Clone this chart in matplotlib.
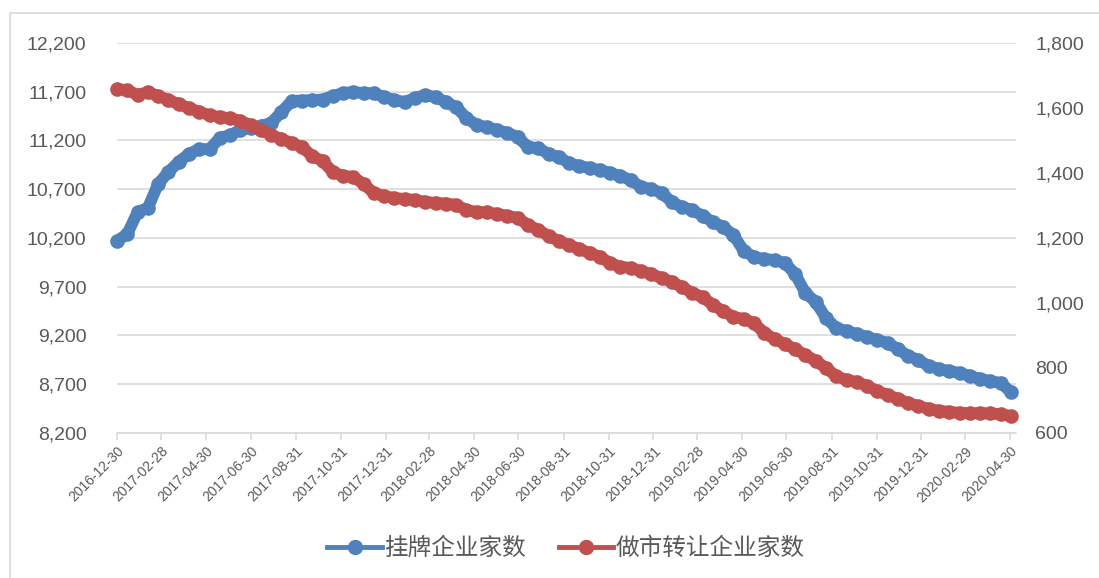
import numpy as np
import pandas as pd
import matplotlib
matplotlib.use("Agg")
import matplotlib.pyplot as plt
from matplotlib.patches import Rectangle
from matplotlib.lines import Line2D

plt.rcParams['font.family'] = ['Liberation Sans', 'Noto Sans CJK SC', 'DejaVu Sans']

# biweekly observations, 2016-12-30 .. 2020-05-01
dates = pd.date_range("2016-12-30", periods=88, freq="14D")

listed = [10170, 10241, 10467, 10508, 10754, 10877, 10980, 11062, 11113, 11110,
          11226, 11256, 11308, 11328, 11349, 11380, 11492, 11605, 11610, 11615,
          11620, 11656, 11687, 11697, 11687, 11685, 11646, 11615, 11595, 11636,
          11667, 11646, 11595, 11544, 11431, 11359, 11338, 11308, 11277, 11236,
          11133, 11123, 11062, 11031, 10969, 10938, 10918, 10897, 10867, 10836,
          10795, 10723, 10703, 10662, 10569, 10518, 10487, 10426, 10364, 10313,
          10231, 10067, 10005, 9985, 9974, 9944, 9831, 9636, 9544, 9380,
          9277, 9246, 9216, 9185, 9154, 9123, 9062, 8990, 8949, 8887,
          8857, 8836, 8816, 8785, 8754, 8733, 8713, 8621]

market_making = [1658, 1655, 1640, 1649, 1637, 1625, 1612, 1600, 1588, 1578,
                 1572, 1569, 1560, 1548, 1532, 1517, 1505, 1492, 1480, 1452,
                 1437, 1403, 1391, 1388, 1366, 1338, 1329, 1323, 1320, 1317,
                 1311, 1308, 1306, 1302, 1286, 1280, 1279, 1274, 1268, 1262,
                 1240, 1225, 1206, 1191, 1178, 1166, 1154, 1142, 1123, 1111,
                 1108, 1098, 1089, 1077, 1065, 1049, 1031, 1018, 994, 975,
                 957, 951, 938, 908, 889, 874, 858, 840, 822, 800,
                 775, 763, 757, 745, 729, 717, 705, 692, 683, 674,
                 668, 665, 662, 661, 661, 660, 658, 652]

tick_labels = ["2016-12-30", "2017-02-28", "2017-04-30", "2017-06-30", "2017-08-31",
               "2017-10-31", "2017-12-31", "2018-02-28", "2018-04-30", "2018-06-30",
               "2018-08-31", "2018-10-31", "2018-12-31", "2019-02-28", "2019-04-30",
               "2019-06-30", "2019-08-31", "2019-10-31", "2019-12-31", "2020-02-29",
               "2020-04-30"]

name_listed = "挂牌企业家数"
name_mm = "做市转让企业家数"

blue = "#4F81BD"
red = "#C0504D"
grey = "#595959"
gridc = "#D9D9D9"

fig = plt.figure(figsize=(10.99, 5.78), dpi=100)
ax = fig.add_axes([0.1065, 0.2509, 0.8180, 0.6747])
ax2 = ax.twinx()

ax.plot(dates, listed, "o-", color=blue, lw=8.5, ms=9.5, clip_on=False, zorder=3,
        solid_capstyle="round", solid_joinstyle="round")
ax2.plot(dates, market_making, "o-", color=red, lw=8.5, ms=9.5, clip_on=False, zorder=3,
         solid_capstyle="round", solid_joinstyle="round")

ax.set_ylim(8200, 12200)
ax.set_yticks(np.arange(8200, 12201, 500))
ax2.set_ylim(600, 1800)
ax2.set_yticks(np.arange(600, 1801, 200))
for a in (ax, ax2):
    a.yaxis.set_major_formatter(matplotlib.ticker.FuncFormatter(lambda v, p: f"{int(v):,}"))
    a.tick_params(axis="y", length=0, labelsize=14, labelcolor=grey)
    for s in a.spines.values():
        s.set_visible(False)
ax.tick_params(axis="y", pad=22)
ax2.tick_params(axis="y", pad=14)

ax.grid(axis="y", color=gridc, lw=1.2)
ax.set_axisbelow(True)
ax.spines["bottom"].set_visible(True)
ax.spines["bottom"].set_color(gridc)
ax.spines["bottom"].set_linewidth(1.2)

ticks = pd.to_datetime(tick_labels)
ax.set_xticks(ticks)
ax.set_xticklabels(tick_labels, rotation=45, ha="right", rotation_mode="anchor",
                   fontsize=10, color=grey)
ax.tick_params(axis="x", length=5, color=gridc, width=1.2, pad=3)
ax.set_xlim(pd.Timestamp("2016-12-30"), pd.Timestamp("2020-05-08"))

# legend handles drawn thinner than the plotted band, as in the original
h1 = Line2D([], [], color=blue, lw=3.5, marker="o", ms=10)
h2 = Line2D([], [], color=red, lw=3.5, marker="o", ms=10)
leg = fig.legend(handles=[h1, h2], labels=[name_listed, name_mm], loc="center",
                 bbox_to_anchor=(0.515, 0.051), ncol=2, frameon=False,
                 handlelength=2.3, columnspacing=1.4, handletextpad=0.1,
                 prop={"family": ["Noto Sans CJK SC"], "size": 17})
for t in leg.get_texts():
    t.set_color(grey)

fig.patches.append(Rectangle((0.0091, -0.01), 1.0, 0.9875, transform=fig.transFigure,
                             fill=False, edgecolor=gridc, lw=1.2))

fig.savefig("out.png", dpi=100)
